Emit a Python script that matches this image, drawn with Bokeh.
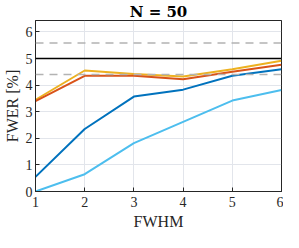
from bokeh.plotting import figure
from bokeh.models import Span, LinearAxis, Range1d, FixedTicker, Title
from bokeh.embed import file_html
from bokeh.resources import INLINE

fwhm = [1, 2, 3, 4, 5, 6]
series_orange = [3.45, 4.55, 4.42, 4.32, 4.6, 4.92]
series_red = [3.4, 4.35, 4.35, 4.22, 4.5, 4.77]
series_blue = [0.55, 2.35, 3.57, 3.83, 4.35, 4.6]
series_lightblue = [0.0, 0.65, 1.82, 2.62, 3.42, 3.82]
nominal_level = 5.0
ci_upper = 5.58
ci_lower = 4.4
x_ticks = [1, 2, 3, 4, 5, 6]
y_ticks = [0, 1, 2, 3, 4, 5, 6]
x_min, x_max = 1, 6
y_min, y_max = 0, 6.43

SERIF = "Liberation Serif"
AX = "#262626"

p = figure(width=283, height=232, x_range=Range1d(x_min, x_max), y_range=Range1d(y_min, y_max),
           output_backend="svg", toolbar_location=None,
           min_border_left=29, min_border_right=2, min_border_top=20, min_border_bottom=0)
p.outline_line_color = AX
p.outline_line_width = 1
p.background_fill_color = "white"
p.border_fill_color = "white"

for ax in (p.xaxis[0], p.yaxis[0]):
    ax.axis_line_color = AX
    ax.major_tick_line_color = AX
    ax.major_tick_in = 4
    ax.major_tick_out = 0
    ax.minor_tick_line_color = None
    ax.major_label_text_font = SERIF
    ax.major_label_text_font_size = "14px"
    ax.major_label_text_color = AX
    ax.axis_label_text_font = SERIF
    ax.axis_label_text_font_size = "16px"
    ax.axis_label_text_font_style = "normal"
    ax.axis_label_text_color = AX
p.xaxis.ticker = FixedTicker(ticks=x_ticks)
p.yaxis.ticker = FixedTicker(ticks=y_ticks)
p.xaxis.axis_label = "FWHM"
p.yaxis.axis_label = "FWER [%]"
p.xaxis.major_label_standoff = 5
p.xaxis.axis_label_standoff = 3
p.yaxis.major_label_standoff = 3
p.yaxis.axis_label_standoff = 2

p.xgrid.ticker = FixedTicker(ticks=x_ticks)
p.ygrid.ticker = FixedTicker(ticks=y_ticks)
p.grid.grid_line_color = "#e2e5eb"
p.grid.grid_line_width = 1

# mirrored ticks on top and right (drawn at the frame edge, no labels)
top = LinearAxis(ticker=FixedTicker(ticks=x_ticks), fixed_location=y_max,
                 major_label_overrides={t: "" for t in x_ticks},
                 major_tick_in=0, major_tick_out=4, minor_tick_line_color=None,
                 axis_line_color=AX, major_tick_line_color=AX)
right = LinearAxis(ticker=FixedTicker(ticks=y_ticks), fixed_location=x_max,
                   major_label_overrides={t: "" for t in y_ticks},
                   major_tick_in=0, major_tick_out=4, minor_tick_line_color=None,
                   axis_line_color=AX, major_tick_line_color=AX)
p.add_layout(top, "above")
p.add_layout(right, "right")

p.add_layout(Title(text="N = 50", text_font="DejaVu Serif", text_font_size="15px",
                   text_font_style="bold", text_color="black", align="center",
                   standoff=0, offset=0), "above")

for loc in (ci_upper, ci_lower):
    p.add_layout(Span(location=loc, dimension="width", line_color="#b3b3b3",
                      line_width=1.5, line_dash="8 6"))
p.add_layout(Span(location=nominal_level, dimension="width", line_color="black", line_width=1.6))

p.line(fwhm, series_orange, line_color="#EDB120", line_width=2)
p.line(fwhm, series_red, line_color="#D95319", line_width=2)
p.line(fwhm, series_blue, line_color="#0072BD", line_width=2)
p.line(fwhm, series_lightblue, line_color="#4DBEEE", line_width=2)

open("out.html", "w").write(file_html(p, INLINE))
